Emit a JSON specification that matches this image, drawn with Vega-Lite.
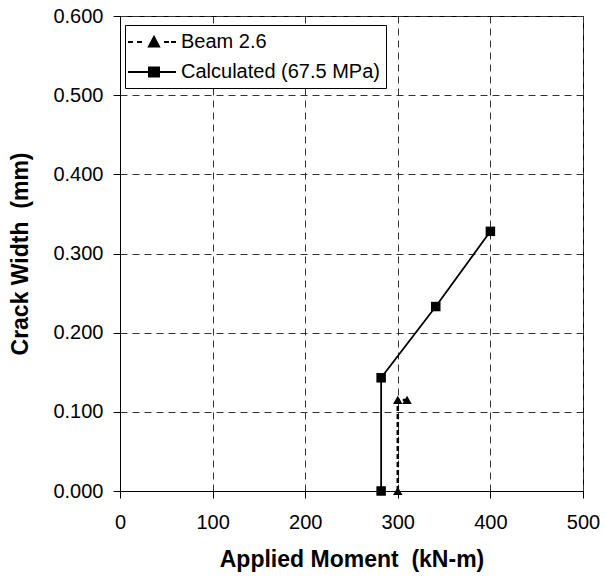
{
  "$schema": "https://vega.github.io/schema/vega-lite/v6.json",
  "width": 463,
  "height": 475,
  "autosize": {"type": "none"},
  "padding": {"left": 120, "top": 16, "right": 22, "bottom": 89},
  "background": "white",
  "config": {
    "font": "Liberation Sans",
    "view": {"stroke": "black", "strokeWidth": 1}
  },
  "data": {
    "values": [
      {"series": "Beam 2.6", "moment": 300, "crack": 0.0, "idx": 1},
      {"series": "Beam 2.6", "moment": 300, "crack": 0.115, "idx": 2},
      {"series": "Beam 2.6", "moment": 310, "crack": 0.115, "idx": 3},
      {"series": "Calculated (67.5 MPa)", "moment": 282, "crack": 0.0, "idx": 1},
      {"series": "Calculated (67.5 MPa)", "moment": 282, "crack": 0.143, "idx": 2},
      {"series": "Calculated (67.5 MPa)", "moment": 341, "crack": 0.233, "idx": 3},
      {"series": "Calculated (67.5 MPa)", "moment": 400, "crack": 0.328, "idx": 4}
    ]
  },
  "encoding": {
    "x": {
      "field": "moment",
      "type": "quantitative",
      "scale": {"domain": [0, 500], "nice": false, "zero": false},
      "axis": {
        "title": "Applied Moment\u00a0 (kN-m)",
        "values": [0, 100, 200, 300, 400, 500],
        "format": "d",
        "grid": true,
        "gridDash": [7, 5],
        "gridColor": "#333333",
        "gridWidth": 1,
        "gridOpacity": 1,
        "domainColor": "black",
        "tickColor": "black",
        "tickSize": 7,
        "labelFontSize": 20,
        "labelColor": "black",
        "labelPadding": 14,
        "labelFlush": false,
        "titleFontSize": 23,
        "titleFontWeight": "bold",
        "titleColor": "black",
        "titlePadding": 16
      }
    },
    "y": {
      "field": "crack",
      "type": "quantitative",
      "scale": {"domain": [0, 0.6], "nice": false},
      "axis": {
        "title": "Crack Width\u00a0 (mm)",
        "values": [0, 0.1, 0.2, 0.3, 0.4, 0.5, 0.6],
        "format": ".3f",
        "grid": true,
        "gridDash": [7, 5],
        "gridColor": "#333333",
        "gridWidth": 1,
        "gridOpacity": 1,
        "domainColor": "black",
        "tickColor": "black",
        "tickSize": 7,
        "labelFontSize": 20,
        "labelColor": "black",
        "labelPadding": 10,
        "labelFlush": false,
        "titleFontSize": 23,
        "titleFontWeight": "bold",
        "titleColor": "black",
        "titlePadding": 20
      }
    }
  },
  "resolve": {"scale": {"shape": "independent"}, "legend": {"shape": "independent"}},
  "layer": [
    {
      "transform": [{"filter": "datum.series === 'Beam 2.6'"}],
      "mark": {"type": "line", "color": "black", "strokeWidth": 2.5, "strokeDash": [5, 3]},
      "encoding": {"order": {"field": "idx", "type": "quantitative"}}
    },
    {
      "transform": [{"filter": "datum.series !== 'Beam 2.6'"}],
      "mark": {"type": "line", "color": "black", "strokeWidth": 1.8},
      "encoding": {"order": {"field": "idx", "type": "quantitative"}}
    },
    {
      "mark": {"type": "point", "filled": true, "color": "black", "opacity": 1, "size": 90},
      "encoding": {
        "shape": {
          "field": "series",
          "type": "nominal",
          "scale": {"domain": ["Beam 2.6", "Calculated (67.5 MPa)"], "range": ["triangle-up", "square"]},
          "legend": null
        }
      }
    },
    {
      "mark": {"type": "point", "filled": false, "color": "black", "strokeWidth": 2, "opacity": 0, "size": 1},
      "encoding": {
        "shape": {
          "field": "series",
          "type": "nominal",
          "scale": {
            "domain": ["Beam 2.6", "Calculated (67.5 MPa)"],
            "range": [
              "M-1.4,0H-0.9M-0.5,0H0M2.2,0H2.7M2.9,0H3.4M1.2,-0.5L1.7,0.45L0.7,0.45ZM1.07,-0.25H1.33M0.96,-0.05H1.44M0.86,0.15H1.54M0.75,0.35H1.65",
              "M-1.4,0H3.4M0.7,-0.45H1.7V0.45H0.7ZM0.7,-0.25H1.7M0.7,-0.05H1.7M0.7,0.15H1.7M0.7,0.35H1.7"
            ]
          },
          "legend": {
            "orient": "none",
            "legendX": 5,
            "legendY": 9,
            "title": null,
            "symbolSize": 400,
            "symbolStrokeWidth": 2,
            "symbolOpacity": 1,
            "symbolStrokeColor": "black",
            "labelFont": "Liberation Sans",
            "labelFontSize": 20,
            "labelColor": "black",
            "labelOffset": 28,
            "labelLimit": 400,
            "rowPadding": 9,
            "padding": 6,
            "strokeColor": "black",
            "fillColor": "white",
            "cornerRadius": 0
          }
        }
      }
    }
  ]
}
